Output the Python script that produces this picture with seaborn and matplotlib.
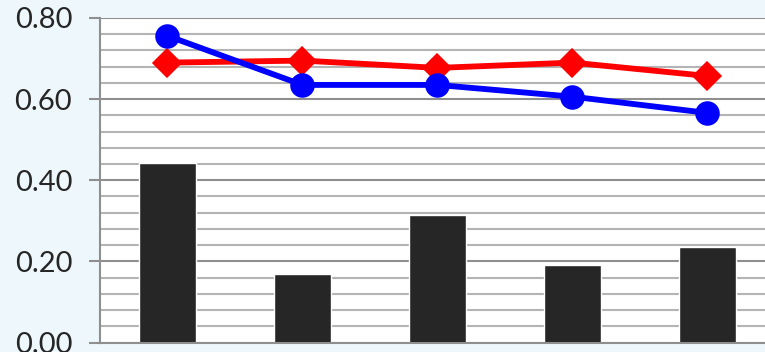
import numpy as np
import pandas as pd
import matplotlib
matplotlib.use("Agg")
import matplotlib.pyplot as plt
import seaborn as sns
from matplotlib.ticker import MultipleLocator, FormatStrFormatter

categories = ["1", "2", "3", "4", "5"]
bar_values = [0.443, 0.170, 0.315, 0.190, 0.236]
blue_values = [0.756, 0.635, 0.635, 0.606, 0.566]
red_values = [0.690, 0.695, 0.677, 0.690, 0.657]
y_ticks = [0.0, 0.2, 0.4, 0.6, 0.8]

df = pd.DataFrame({"cat": categories, "bar": bar_values,
                   "blue": blue_values, "red": red_values})

sns.set_style("white")
plt.rcParams['font.family'] = ['Lato', 'DejaVu Sans']

fig = plt.figure(figsize=(7.65, 3.52), dpi=100)
fig.patch.set_facecolor("#eef7fb")
ax = fig.add_axes([100/765, 9.5/352, 665/765, 324.5/352])
ax.set_facecolor("white")

# grid
ax.yaxis.set_minor_locator(MultipleLocator(0.04))
ax.set_yticks(y_ticks)
ax.yaxis.set_major_formatter(FormatStrFormatter("%.2f"))
ax.grid(True, which="minor", axis="y", color="#b4b4b4", linewidth=1.5, zorder=0)
ax.grid(True, which="major", axis="y", color="#8f8f8f", linewidth=1.5, zorder=0)
ax.set_axisbelow(True)

sns.barplot(data=df, x="cat", y="bar", color="#262626", width=0.415,
            saturation=1, ax=ax, zorder=2)
sns.pointplot(data=df, x="cat", y="red", color="#ff0000", markers="D",
              markersize=12, linewidth=4.2, ax=ax, zorder=3)
sns.pointplot(data=df, x="cat", y="blue", color="#0000ff", markers="o",
              markersize=14.5, linewidth=4.2, ax=ax, zorder=4)

ax.set_ylim(0, 0.8)
ax.set_xlim(-0.5, 4.426)
ax.set_xlabel("")
ax.set_ylabel("")
ax.set_xticks([])
ax.tick_params(axis="y", which="major", direction="out", length=8, width=1.5,
               color="#8f8f8f", labelsize=21, pad=12, left=True)
ax.tick_params(axis="y", which="minor", length=0)
for s in ["top", "right"]:
    ax.spines[s].set_visible(False)
for s in ["left", "bottom"]:
    ax.spines[s].set_color("#8f8f8f")
    ax.spines[s].set_linewidth(1.5)

fig.savefig("out.png", dpi=100, facecolor=fig.get_facecolor())
